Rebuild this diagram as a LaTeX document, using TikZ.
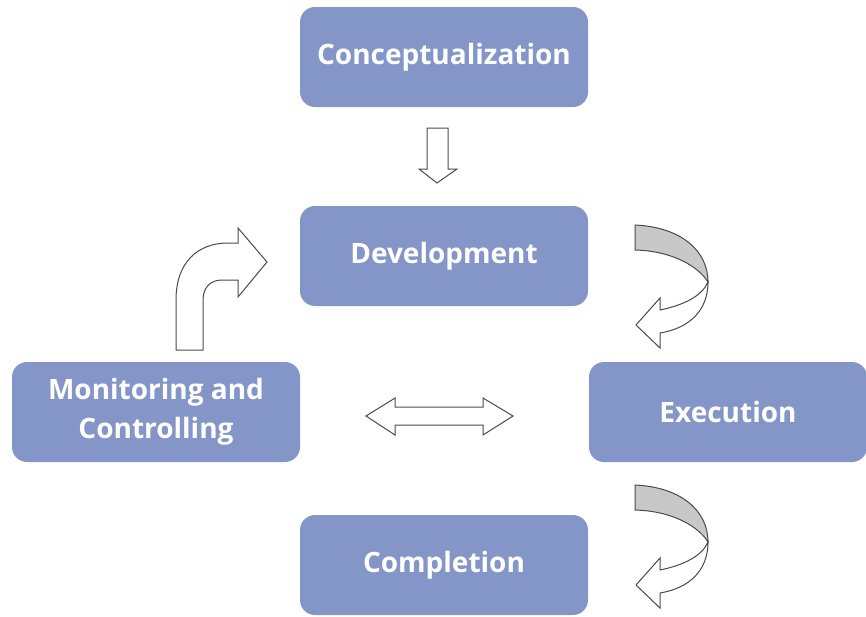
\documentclass[tikz,border=0pt]{standalone}
\usepackage{fontspec}
\usepackage{xcolor}
\newfontfamily\phasefont{Open Sans}
\definecolor{phaseblue}{HTML}{8496C8}
\definecolor{ribbongray}{HTML}{C8C8C8}
\definecolor{edgegray}{HTML}{4A4A4A}

\tikzset{
  phase/.style={fill=phaseblue, rounded corners=15pt, minimum width=288pt, minimum height=100pt,
    text=white, align=center, inner sep=0pt, font=\phasefont\bfseries\fontsize{28}{39}\selectfont},
  blockarrow/.style={draw=edgegray, line width=1pt, fill=white, line join=miter},
  backside/.style={draw=edgegray, line width=1pt, fill=ribbongray}
}

\begin{document}
\begin{tikzpicture}[x=1pt, y=-1pt]
  \useasboundingbox (0,0) rectangle (866,616);

  \node[phase] (concept) at (444,57) {Conceptualization};
  \node[phase] (develop) at (444,256) {Development};
  \node[phase, minimum width=278pt] (exec) at (728,412) {Execution};
  \node[phase] (monitor) at (156,412) {Monitoring and\\Controlling};
  \node[phase] (complete) at (444,565) {Completion};

  % down arrow between conceptualization and development
  \draw[blockarrow] (427,128) -- (448,128) -- (448,169) -- (457,169) -- (437,183)
    -- (419,169) -- (427,169) -- cycle;

  % bent arrow from monitoring up to development
  \draw[blockarrow] (176,350) -- (176,300) .. controls (176,262) and (198,243) .. (228,243)
    -- (238,243) -- (238,228) -- (267,262) -- (238,297) -- (238,280) -- (222,280)
    .. controls (210,280) and (203,288) .. (203,300) -- (203,350) -- cycle;

  % double arrow between monitoring and execution
  \draw[blockarrow] (366,416) -- (395,398) -- (395,407) -- (483,407) -- (483,398)
    -- (513,416) -- (483,435) -- (483,425) -- (395,425) -- (395,435) -- cycle;

  % twisted arrows on the right
  \foreach \dy/\nm in {0/toexec, 260/tocomplete}{
    \begin{scope}[yshift=-\dy pt]
      \draw[backside] (635,225) .. controls (680,227) and (708,250) .. (708,282)
        .. controls (698,266) and (672,251) .. (635,250) -- cycle;
      \draw[blockarrow] (708,282) .. controls (708,310) and (690,328) .. (660,333)
        -- (660,348) -- (636,325) -- (660,298) -- (660,310)
        .. controls (684,305) and (702,296) .. (708,282) -- cycle;
    \end{scope}
  }
\end{tikzpicture}
\end{document}
